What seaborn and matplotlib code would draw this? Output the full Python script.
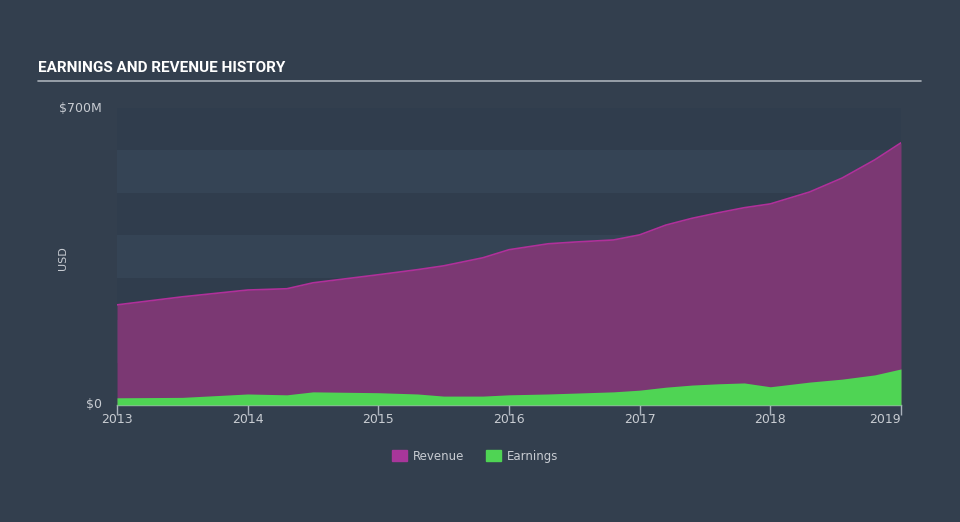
import matplotlib
matplotlib.use("Agg")
import matplotlib.pyplot as plt
import seaborn as sns
import numpy as np
import pandas as pd
from matplotlib.patches import Patch

# values (USD millions)
years = [2013.0, 2013.5, 2014.0, 2014.3, 2014.5, 2015.0, 2015.3, 2015.5, 2015.8,
         2016.0, 2016.3, 2016.5, 2016.8, 2017.0, 2017.2, 2017.4, 2017.6, 2017.8,
         2018.0, 2018.3, 2018.55, 2018.8, 2019.0]
revenue = [236, 255, 271, 274, 288, 307, 319, 328, 347,
           366, 380, 384, 389, 401, 424, 440, 453, 465,
           474, 502, 535, 578, 618]
earnings = [17, 18, 26, 24, 31, 29, 26, 21, 21,
            24, 26, 28, 31, 35, 42, 47, 50, 52,
            43, 54, 61, 71, 85]
xticks = [2013, 2014, 2015, 2016, 2017, 2018, 2019]

df = pd.DataFrame({"year": years, "Revenue": revenue, "Earnings": earnings})

bg = "#333f4e"
plot_bg = "#354455"
band = "#303d4d"
rev_fill = "#7b3873"
rev_line = "#b0309a"
earn_col = "#4fd454"
txt = "#c8ccd2"

sns.set_theme(style="dark")
plt.rcParams["font.family"] = ["DejaVu Sans"]

fig = plt.figure(figsize=(9.6, 5.22), dpi=100, facecolor=bg)
ax = fig.add_axes([117 / 960, 1 - 405 / 522, (901 - 117) / 960, (405 - 108) / 522])
ax.set_facecolor(plot_bg)

for lo in (0, 200, 400, 600):
    ax.axhspan(lo, lo + 100, color=band, lw=0, zorder=0)

ax.fill_between(df["year"], 0, df["Revenue"], color=rev_fill, lw=0, zorder=1)
sns.lineplot(data=df, x="year", y="Revenue", color=rev_line, lw=1.2, ax=ax, zorder=2)
ax.fill_between(df["year"], 0, df["Earnings"], color=earn_col, lw=0, zorder=3)

ax.set_xlim(2013, 2019)
ax.set_ylim(0, 700)
ax.set_xticks(xticks)
ax.set_xticklabels([str(x) for x in xticks], color=txt, fontsize=9)
lbls = ax.get_xticklabels()
lbls[-1].set_horizontalalignment("right")
ax.tick_params(axis="x", direction="out", length=7, width=1, color="#aab2bc", pad=-1, bottom=True)
ax.set_yticks([])
ax.set_xlabel("")
ax.set_ylabel("")
for s in ["top", "right", "left"]:
    ax.spines[s].set_visible(False)
ax.spines["bottom"].set_color("#aab2bc")
ax.spines["bottom"].set_linewidth(1)

fig.text(102 / 960, 1 - 108 / 522, "$700M", color=txt, fontsize=9, ha="right", va="center")
fig.text(102 / 960, 1 - 404 / 522, "$0", color=txt, fontsize=9, ha="right", va="center")
fig.text(63 / 960, 1 - 258 / 522, "USD", color=txt, fontsize=8, rotation=90, ha="center", va="center")

fig.text(38 / 960, 1 - 68 / 522, "EARNINGS AND REVENUE HISTORY", color="white", fontsize=11,
         fontweight="bold", family=["Liberation Sans Narrow", "Roboto", "DejaVu Sans"],
         ha="left", va="center")
fig.add_artist(plt.Line2D([38 / 960, 921 / 960], [1 - 81 / 522, 1 - 81 / 522], color="#a9b0b8", lw=1.2))

handles = [Patch(color="#a8369a", label="Revenue"), Patch(color=earn_col, label="Earnings")]
fig.legend(handles=handles, loc="center", bbox_to_anchor=(475 / 960, 1 - 456 / 522), ncol=2,
           frameon=False, fontsize=8.5, labelcolor=txt, handlelength=1.3, handleheight=1.0,
           columnspacing=1.8, handletextpad=0.5)

fig.savefig("out.png", dpi=100, facecolor=bg)
